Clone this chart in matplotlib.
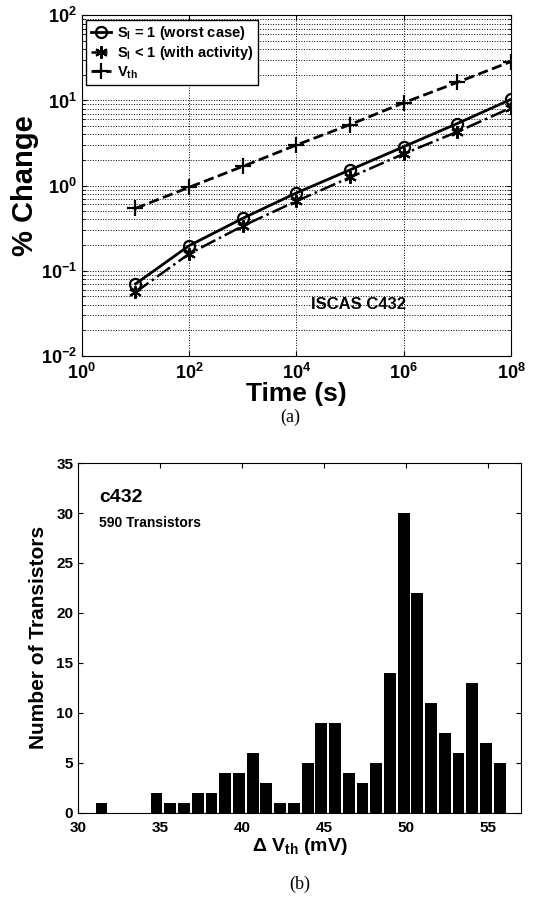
import numpy as np
import matplotlib
matplotlib.use("Agg")
from matplotlib import pyplot as plt
from matplotlib.ticker import FixedLocator, FuncFormatter, LogLocator, NullFormatter

plt.rcParams["font.family"] = ["Liberation Sans", "DejaVu Sans"]
plt.rcParams["font.weight"] = "bold"
plt.rcParams["mathtext.fontset"] = "custom"
plt.rcParams["mathtext.rm"] = "Liberation Sans:bold"
plt.rcParams["mathtext.it"] = "Liberation Sans:bold"
plt.rcParams["mathtext.bf"] = "Liberation Sans:bold"

# (a) % change vs stress time
time_s = [1e1, 1e2, 1e3, 1e4, 1e5, 1e6, 1e7, 1e8]
worst_case = [0.070, 0.197, 0.413, 0.82, 1.53, 2.86, 5.36, 10.3]
with_activity = [0.056, 0.158, 0.336, 0.657, 1.25, 2.36, 4.28, 8.2]
vth_change = [0.54, 0.955, 1.68, 3.0, 5.2, 9.4, 16.3, 28.6]

# (b) histogram of delta Vth
bin_centers = [31.43, 32.27, 33.10, 33.94, 34.78, 35.62, 36.45, 37.29, 38.13, 38.96,
               39.80, 40.64, 41.47, 42.31, 43.15, 43.99, 44.82, 45.66, 46.50, 47.33,
               48.17, 49.01, 49.84, 50.68, 51.52, 52.36, 53.19, 54.03, 54.87, 55.71]
counts = [1, 0, 0, 0, 2, 1, 1, 2, 2, 4,
          4, 6, 3, 1, 1, 5, 9, 9, 4, 3,
          5, 14, 30, 22, 11, 8, 6, 13, 7, 5]

fig = plt.figure(figsize=(5.35, 9.01), dpi=100)

# ---- top plot
ax1 = fig.add_axes([0.153, 0.605, 0.802, 0.378])
ax1.plot(time_s, worst_case, "k-o", lw=2, ms=8, mfc="none", mew=1.6,
         label=r"S$_\mathbf{I}$ = 1 (worst case)")
ax1.plot(time_s, with_activity, "k-.", marker=(6, 2, 0), lw=1.8, ms=9, mew=1.5,
         label=r"S$_\mathbf{I}$ < 1 (with activity)")
ax1.plot(time_s, vth_change, "k--+", lw=2, ms=11, mew=1.6,
         label=r"V$_\mathbf{th}$")
ax1.set_xscale("log")
ax1.set_yscale("log")
ax1.set_xlim(1, 1e8)
ax1.set_ylim(1e-2, 1e2)
ax1.xaxis.set_major_locator(FixedLocator([1e0, 1e2, 1e4, 1e6, 1e8]))
ax1.xaxis.set_minor_locator(FixedLocator([]))
ax1.yaxis.set_major_locator(FixedLocator([1e-2, 1e-1, 1e0, 1e1, 1e2]))
ax1.yaxis.set_minor_locator(LogLocator(base=10, subs=np.arange(2, 10)))
ax1.yaxis.set_minor_formatter(NullFormatter())
fmt = FuncFormatter(lambda v, p: r"$\mathbf{10^{%d}}$" % round(np.log10(v)))
ax1.xaxis.set_major_formatter(fmt)
ax1.yaxis.set_major_formatter(fmt)
ax1.tick_params(which="both", direction="in", top=True, right=True, labelsize=13)
ax1.tick_params(axis="x", pad=5)
ax1.grid(which="major", linestyle=":", color="k", lw=0.7)
ax1.grid(which="minor", axis="y", linestyle=":", color="k", lw=0.7)
ax1.set_xlabel("Time (s)", fontsize=19, fontweight="bold", labelpad=-1)
ax1.set_ylabel("% Change", fontsize=21, fontweight="bold", labelpad=1)
ax1.text(10**5.15, 0.040, "ISCAS C432", fontsize=12, fontweight="bold",
         ha="center", va="center")
leg = ax1.legend(loc="upper left", fontsize=10.5, fancybox=False, framealpha=1,
                 edgecolor="k", handlelength=1.4, handletextpad=0.4,
                 borderaxespad=0.3, labelspacing=0.15, borderpad=0.3)
leg.get_frame().set_linewidth(1.0)

fig.text(0.542, 0.537, "(a)", fontsize=13, family="Liberation Serif",
         fontweight="normal", ha="center", va="center")

# ---- bottom histogram
ax2 = fig.add_axes([0.146, 0.098, 0.828, 0.388])
ax2.bar(bin_centers, counts, width=0.72, color="k", edgecolor="none")
ax2.set_xlim(30, 57)
ax2.set_ylim(0, 35)
ax2.set_xticks([30, 35, 40, 45, 50, 55])
ax2.set_yticks([0, 5, 10, 15, 20, 25, 30, 35])
ax2.tick_params(direction="in", top=True, right=True, labelsize=11)
ax2.tick_params(axis="x", pad=6)
ax2.set_xlabel(r"$\Delta$ V$_\mathbf{th}$ (mV)", fontsize=14, fontweight="bold",
               labelpad=1)
ax2.set_ylabel("Number of Transistors", fontsize=15, fontweight="bold", labelpad=6)
ax2.text(31.3, 31.6, "c432", fontsize=14, fontweight="bold", va="center")
ax2.text(31.3, 29.0, "590 Transistors", fontsize=10, fontweight="bold", va="center")

fig.text(0.561, 0.018, "(b)", fontsize=13, family="Liberation Serif",
         fontweight="normal", ha="center", va="center")

fig.savefig("out.png", dpi=100)
